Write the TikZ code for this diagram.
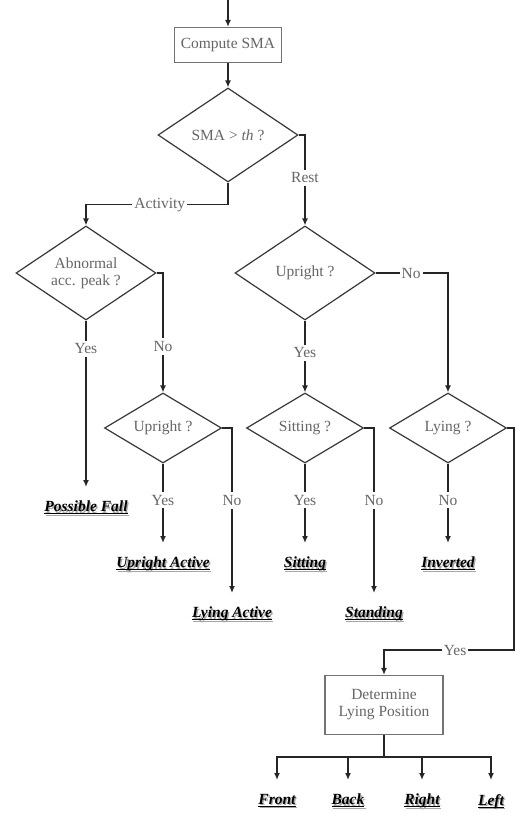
\documentclass[tikz,border=0pt]{standalone}
\usepackage{fontspec}
\setmainfont{Liberation Serif}
\usetikzlibrary{shapes.geometric,arrows.meta}

% underlined text with a fixed rule just below the baseline
\newcommand\undl[1]{\setbox0\hbox{#1}\rlap{\rule[-2.4pt]{\wd0}{0.9pt}}\box0}
% result text: underlined, with a soft grey drop shadow
\newcommand\outtext[1]{\rlap{\hspace{1.3pt}\raisebox{-1.3pt}{\color{black!35}\undl{#1}}}\undl{#1}}

\begin{document}
\begin{tikzpicture}[x=1pt,y=-1pt,
  font=\fontsize{15.5}{17}\selectfont,
  wire/.style={draw=black!85, line width=1.6pt},
  conn/.style={wire, -{Latex[length=7pt,width=6pt]}},
  decision/.style={diamond, draw=black!78, line width=1.2pt, inner sep=0pt,
    text=black!60, align=center},
  bigdec/.style={decision, aspect=1.5, minimum width=140pt, minimum height=94pt},
  smalldec/.style={decision, aspect=1.67, minimum width=117pt, minimum height=70pt},
  process/.style={rectangle, draw=black!55, line width=1.1pt, text=black!60,
    align=center, inner sep=0pt},
  lbl/.style={fill=white, text=black!60, inner xsep=2pt, inner ysep=3pt},
  outcome/.style={anchor=north, inner xsep=0pt, inner ysep=14pt,
    font=\fontsize{15.5}{17}\selectfont\bfseries\itshape}]

\fill[white] (0,0) rectangle (515,814);
\useasboundingbox (0,0) rectangle (515,814);

% ---- nodes ----
\coordinate (start) at (228,0);
\node[process, minimum width=107pt, minimum height=35pt] (sma) at (228,45) {Compute SMA};
\node[bigdec] (dsma) at (228,135) {SMA > \textit{th} ?};

\node[bigdec] (dab) at (86,273) {Abnormal\\acc. peak ?};
\node[bigdec] (dup) at (305,273) {Upright ?};

\node[smalldec] (dua) at (163,428) {Upright ?};
\node[smalldec] (dsit) at (305,428) {Sitting ?};
\node[smalldec] (dly) at (448,428) {Lying ?};

\node[outcome] (fall) at (86,487) {\outtext{Possible Fall}};
\node[outcome] (uact) at (163,543) {\outtext{Upright Active}};
\node[outcome] (lact) at (232,593) {\outtext{Lying Active}};
\node[outcome] (sit) at (305,543) {\outtext{Sitting}};
\node[outcome] (stand) at (374,593) {\outtext{Standing}};
\node[outcome] (inv) at (448,543) {\outtext{Inverted}};

\node[process, minimum width=118pt, minimum height=59pt] (det) at (384,705)
  {Determine\\Lying Position};

\node[outcome] (front) at (277,780) {\outtext{Front}};
\node[outcome] (back) at (348,780) {\outtext{Back}};
\node[outcome] (right) at (422,780) {\outtext{Right}};
\node[outcome] (left) at (491,780) {\outtext{Left}};

% ---- connectors ----
\draw[conn] (start) -- (sma);
\draw[conn] (sma) -- (dsma);

\draw[conn] (dsma.south) -- ++(0,22) -| node[lbl,pos=0.24] (lact1) {Activity} (dab.north);
\draw[conn] (dsma.east) -| node[lbl,pos=0.736] (lrest) {Rest} (dup.north);

\draw[conn] (dab.south) -- node[lbl,pos=0.17] (lyes1) {Yes} (fall.north);
\draw[conn] (dab.east) -| node[lbl,pos=0.808] (lno1) {No} (dua.north);

\draw[conn] (dua.south) -- node[lbl,pos=0.46] (lyes2) {Yes} (uact.north);
\draw[conn] (dua.east) -| node[lbl,pos=0.72] (lno2) {No} (lact.north);

\draw[conn] (dup.south) -- node[lbl,pos=0.45] (lyes3) {Yes} (dsit.north);
\draw[conn] (dup.east) -| node[lbl,pos=0.245] (lno3) {No} (dly.north);

\draw[conn] (dsit.south) -- node[lbl,pos=0.46] (lyes4) {Yes} (sit.north);
\draw[conn] (dsit.east) -| node[lbl,pos=0.72] (lno4) {No} (stand.north);

\draw[conn] (dly.south) -- node[lbl,pos=0.46] (lno5) {No} (inv.north);
\draw[conn] (dly.east) -- ++(7,0) -- ++(0,222) -| node[lbl,pos=0.227] (lyes5) {Yes} (det.north);

\draw[wire] (det.south) -- ++(0,22) coordinate (hub);
\draw[conn] (hub) -| (front.north);
\draw[conn] (hub) -| (back.north);
\draw[conn] (hub) -| (right.north);
\draw[conn] (hub) -| (left.north);

\end{tikzpicture}
\end{document}
